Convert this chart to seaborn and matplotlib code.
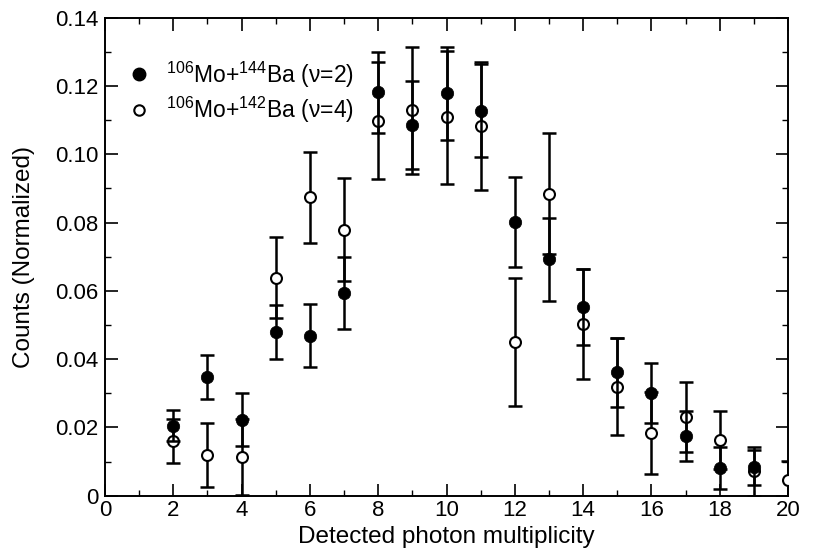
import numpy as np
import pandas as pd
import matplotlib
matplotlib.use("Agg")
import matplotlib.pyplot as plt
from matplotlib.lines import Line2D
from matplotlib.ticker import MultipleLocator, FixedLocator, FixedFormatter
import seaborn as sns

# Photon multiplicity distributions for two fission fragment pairs
mult_a = [2, 3, 4, 5, 6, 7, 8, 9, 10, 11, 12, 13, 14, 15, 16, 17, 18, 19]
counts_a = [0.0205, 0.0348, 0.0223, 0.0479, 0.0469, 0.0594, 0.1181, 0.1087, 0.1178,
            0.1127, 0.0801, 0.0692, 0.0553, 0.0361, 0.0300, 0.0175, 0.0081, 0.0083]
err_a = [0.0045, 0.0065, 0.0077, 0.0080, 0.0092, 0.0105, 0.0118, 0.0129, 0.0136,
         0.0136, 0.0131, 0.0122, 0.0112, 0.0102, 0.0088, 0.0074, 0.0062, 0.0051]

mult_b = [2, 3, 4, 5, 6, 7, 8, 9, 10, 11, 12, 13, 14, 15, 16, 17, 18, 19, 20]
counts_b = [0.0161, 0.0119, 0.0114, 0.0638, 0.0874, 0.0779, 0.1098, 0.1129, 0.1108,
            0.1083, 0.0450, 0.0885, 0.0503, 0.0319, 0.0183, 0.0231, 0.0163, 0.0071, 0.0046]
err_b = [0.0064, 0.0094, 0.0112, 0.0119, 0.0134, 0.0151, 0.0171, 0.0186, 0.0194,
         0.0188, 0.0187, 0.0177, 0.0160, 0.0142, 0.0120, 0.0103, 0.0086, 0.0072, 0.0056]

label_a = r"$^{106}$Mo+$^{144}$Ba (ν=2)"
label_b = r"$^{106}$Mo+$^{142}$Ba (ν=4)"

x_ticks = [0, 2, 4, 6, 8, 10, 12, 14, 16, 18, 20]
y_ticks = [0, 0.02, 0.04, 0.06, 0.08, 0.10, 0.12, 0.14]
y_tick_labels = ["0", "0.02", "0.04", "0.06", "0.08", "0.10", "0.12", "0.14"]

sns.set_theme(style="ticks")
plt.rcParams["font.family"] = ["Liberation Sans", "DejaVu Sans"]
plt.rcParams["mathtext.fontset"] = "custom"
plt.rcParams["mathtext.rm"] = "Liberation Sans"
plt.rcParams["mathtext.it"] = "Liberation Sans:italic"
plt.rcParams["mathtext.default"] = "regular"
plt.rcParams["text.color"] = "black"
plt.rcParams["axes.labelcolor"] = "black"

df_a = pd.DataFrame({"mult": mult_a, "counts": counts_a, "err": err_a})
df_b = pd.DataFrame({"mult": mult_b, "counts": counts_b, "err": err_b})

fig = plt.figure(figsize=(8.13, 5.49), dpi=100)
ax = fig.add_axes([0.1292, 0.0971, 0.8401, 0.8707])

bar_kw = dict(fmt="none", ecolor="black", elinewidth=1.8, capsize=4.8, capthick=1.8)

# open circles first, filled circles on top
ax.errorbar(df_b["mult"], df_b["counts"], yerr=df_b["err"], zorder=2, **bar_kw)
sns.scatterplot(data=df_b, x="mult", y="counts", ax=ax, marker="o", s=62,
                facecolor="white", edgecolor="black", linewidth=1.5, zorder=3,
                legend=False)
ax.errorbar(df_a["mult"], df_a["counts"], yerr=df_a["err"], zorder=4, **bar_kw)
sns.scatterplot(data=df_a, x="mult", y="counts", ax=ax, marker="o", s=80,
                color="black", edgecolor="black", linewidth=0.5, zorder=5,
                legend=False)

ax.set_xlim(0, 20)
ax.set_ylim(0, 0.14)
ax.xaxis.set_major_locator(FixedLocator(x_ticks))
ax.xaxis.set_minor_locator(MultipleLocator(1))
ax.yaxis.set_major_locator(FixedLocator(y_ticks))
ax.yaxis.set_major_formatter(FixedFormatter(y_tick_labels))
ax.yaxis.set_minor_locator(MultipleLocator(0.01))

for side in ["left", "right", "top", "bottom"]:
    ax.spines[side].set_visible(True)
    ax.spines[side].set_linewidth(1.4)
    ax.spines[side].set_color("black")

ax.tick_params(which="both", direction="in", top=True, right=True,
               color="black", labelcolor="black", labelsize=16)
ax.tick_params(which="major", length=9, width=1.2)
ax.tick_params(which="minor", length=4.5, width=1.0)
ax.tick_params(axis="x", which="major", pad=3)
ax.tick_params(axis="y", which="major", pad=5)

ax.set_xlabel("Detected photon multiplicity", fontsize=17.5, labelpad=3.5)
ax.set_ylabel("Counts (Normalized)", fontsize=17.5, labelpad=14)
ax.grid(False)

handles = [
    Line2D([], [], linestyle="none", marker="o", markersize=9,
           markerfacecolor="black", markeredgecolor="black"),
    Line2D([], [], linestyle="none", marker="o", markersize=7.5,
           markerfacecolor="white", markeredgecolor="black", markeredgewidth=1.5),
]
ax.legend(handles, [label_a, label_b], loc="upper left",
          bbox_to_anchor=(0.02, 0.932), frameon=False, fontsize=16.5,
          handlelength=1.0, handletextpad=0.65, labelspacing=0.25,
          borderaxespad=0.0)

fig.savefig("out.png", dpi=100, facecolor="white")
